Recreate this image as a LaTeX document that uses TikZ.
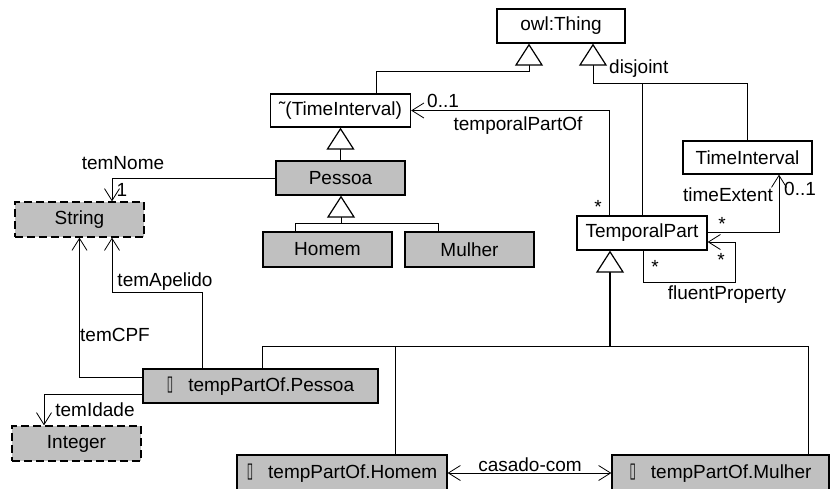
\documentclass[tikz,border=0pt]{standalone}
\usepackage{fontspec}
\setmainfont{Liberation Sans}
\newfontfamily\symfont{DejaVu Sans}
\usetikzlibrary{arrows.meta,calc}
\definecolor{boxgray}{HTML}{C0C0C0}
% placeholder glyph printed in front of the restriction classes
\newcommand\qmark{\raisebox{0.5pt}{\scalebox{0.55}[1.0]{\symfont\fontsize{21}{21}\selectfont ▯}}\hspace{15pt}}
\begin{document}
\begin{tikzpicture}[x=1pt,y=-1pt,
  every node/.style={font=\fontsize{19}{22}\selectfont},
  cls/.style={draw, line width=1.3pt, minimum height=34pt, inner sep=0pt, anchor=center},
  filled/.style={cls, fill=boxgray},
  datatype/.style={filled, dash pattern=on 8pt off 4pt},
  link/.style={line width=0.8pt},
  gen/.style={link, -{Triangle[fill=white, length=22pt, width=28pt, line width=1.2pt]}},
  assoc/.style={link, -{Straight Barb[length=12pt, width=15pt]}},
  lbl/.style={inner sep=0pt}
]
\useasboundingbox (0,0) rectangle (830,488);
\fill[white] (0,0) rectangle (830,488);

% classes
\node[cls, minimum width=128pt] (thing) at (561,26) {owl:Thing};
\node[cls, minimum width=140pt, minimum height=33pt] (notti) at (340.5,110.5) {˜(TimeInterval)};
\node[cls, minimum width=129pt, minimum height=33pt] (ti) at (747.5,157.5) {TimeInterval};
\node[cls, minimum width=130pt] (tp) at (642,233) {TemporalPart};
\node[filled, minimum width=129pt] (pessoa) at (340.5,178) {Pessoa};
\node[filled, minimum width=129pt, minimum height=35pt] (homem) at (327.5,249.5) {Homem};
\node[filled, minimum width=129pt, minimum height=35pt] (mulher) at (469.5,249.5) {Mulher};
\node[datatype, minimum width=129pt, minimum height=35pt] (string) at (79.5,219.5) {String};
\node[datatype, minimum width=129pt, minimum height=35pt] (integer) at (76.5,443.5) {Integer};
\node[filled, minimum width=235pt] (tpp) at (260.5,386) {\qmark tempPartOf.Pessoa};
\node[filled, minimum width=210pt, minimum height=36pt] (tph) at (342,473) {\qmark tempPartOf.Homem};
\node[filled, minimum width=217pt, minimum height=36pt] (tpm) at (720.5,473) {\qmark tempPartOf.Mulher};

% junction points
\coordinate (j1) at (529,71);
\coordinate (j2) at (593,83);
\coordinate (j3) at (341,223);
\coordinate (j4) at (610,346);

% generalisations
\draw[gen] ($(notti.north)+(35.5,0)$) |- (j1) -- (j1 |- thing.south);
\draw[gen] (ti.north) |- (j2) -- (j2 |- thing.south);
\draw[link] (tp.north) -- (tp.north |- j2);
\draw[gen] (pessoa.north) -- (notti.south);
\draw[gen] ($(homem.north)+(-32.5,0)$) |- (j3) -- (j3 |- pessoa.south);
\draw[link] ($(mulher.north)+(-31.5,0)$) |- (j3);
\draw[link] ($(tpp.north)+(1.5,0)$) |- (j4);
\draw[link] ($(tph.north)+(53,0)$) |- (j4);
\draw[link] ($(tpm.north)+(87.5,0)$) |- (j4);
\draw[gen, line width=1.5pt] (j4) -- (j4 |- tp.south);
\node[lbl, anchor=west] (disj) at (609,69) {disjoint};

% temporalPartOf
\draw[assoc] ($(tp.north)+(-33,0)$) |- (notti.east);
\node[lbl, anchor=south west] (m1) at (427,108) {0..1};
\node[lbl] (tpo) at (518,126) {temporalPartOf};
\node[lbl] (m2) at (598,207) {*};

% timeExtent
\draw[assoc] ($(tp.east)+(0,-1)$) -| ($(ti.south)+(31.5,0)$);
\node[lbl] (m3) at (722,224) {*};
\node[lbl, anchor=west] (m4) at (784,189) {0..1};
\node[lbl] (te) at (728,195) {timeExtent};

% fluentProperty
\draw[assoc] ($(tp.south)+(1,0)$) -- ++(0,32) -- ++(92,0) |- ($(tp.east)+(0,9)$);
\node[lbl] (m5) at (655,267) {*};
\node[lbl] (m6) at (721,260) {*};
\node[lbl] (fp) at (727,295) {fluentProperty};

% datatype properties
\draw[assoc] (pessoa.west) -| ($(string.north)+(32.5,0)$);
\node[lbl] (m7) at (122,190) {1};
\node[lbl] (tn) at (123,163) {temNome};
\draw[assoc] ($(tpp.north)+(-58.5,0)$) |- (112,292) -- ($(string.south)+(32.5,0)$);
\node[lbl] (ta) at (165,282) {temApelido};
\draw[assoc] ($(tpp.west)+(0,-9)$) -| (string.south);
\node[lbl] (tc) at (115,335) {temCPF};
\draw[assoc] ($(tpp.west)+(0,8)$) -| ($(integer.north)+(-32.5,0)$);
\node[lbl] (tid) at (95,410) {temIdade};

% casado-com
\draw[link, {Straight Barb[length=12pt, width=15pt]}-{Straight Barb[length=12pt, width=15pt]}] (tph.east) -- (tpm.west);
\node[lbl] (cc) at (530,465) {casado-com};
\end{tikzpicture}
\end{document}
